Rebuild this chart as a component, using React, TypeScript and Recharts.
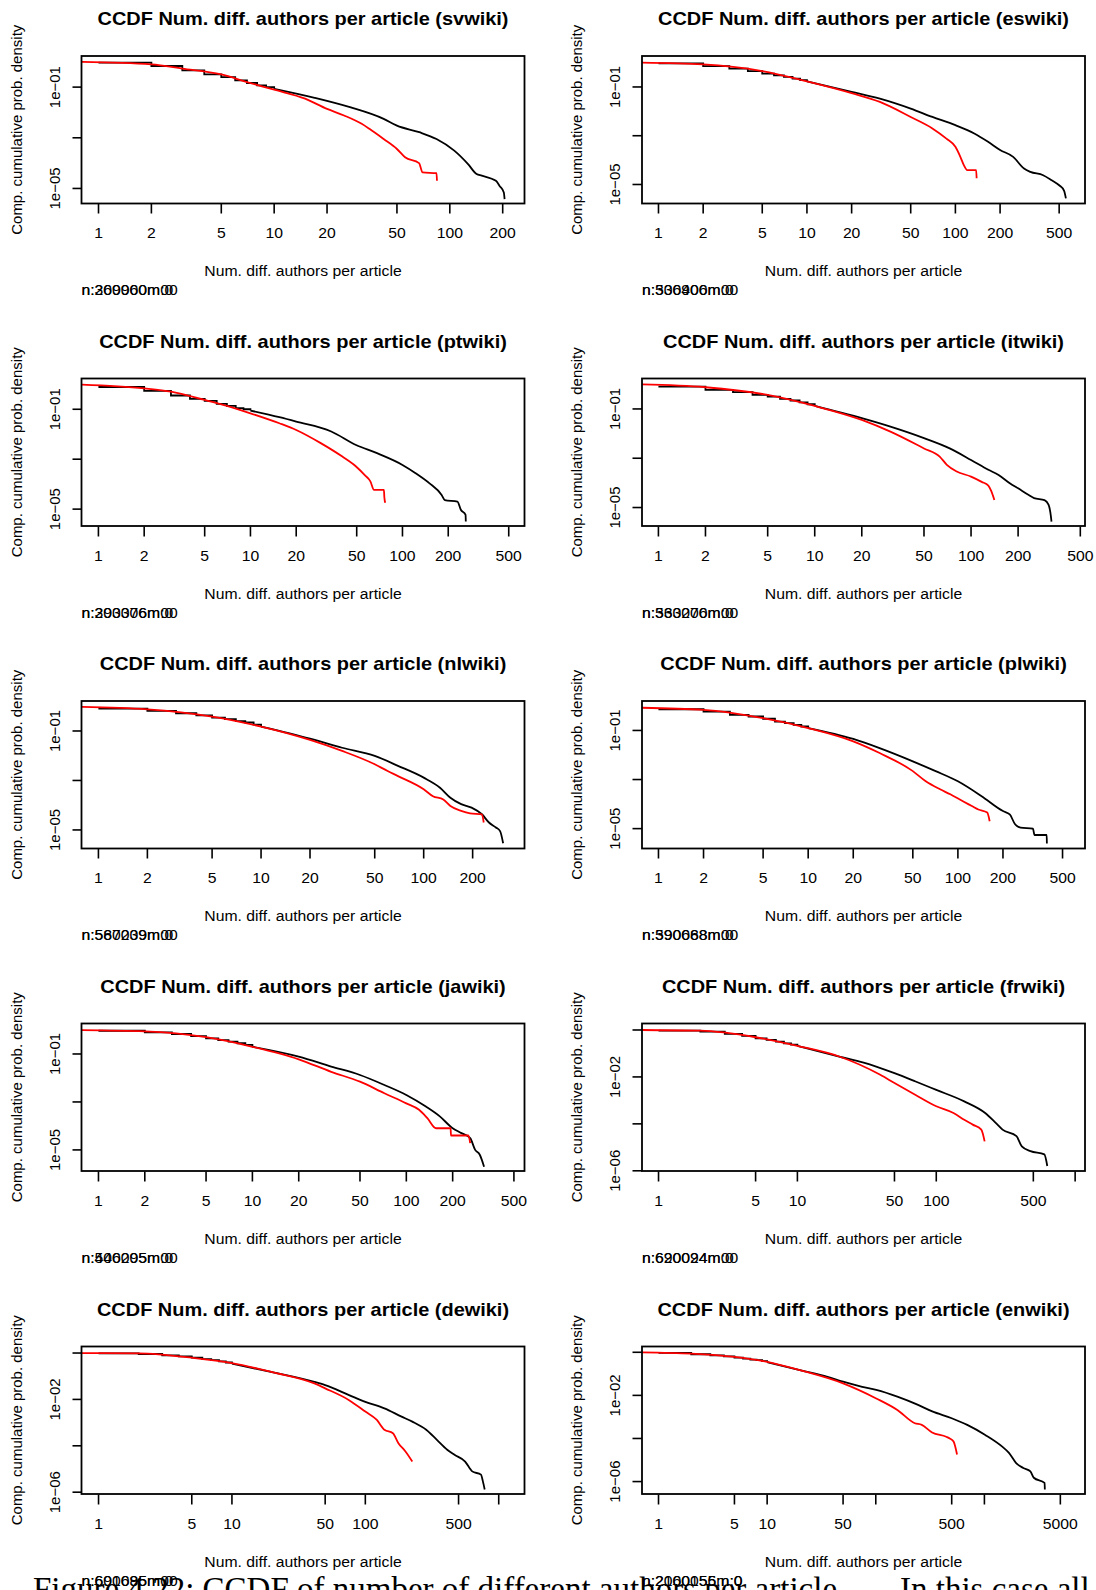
import { LineChart, Line, XAxis, YAxis } from "recharts";

// values, [x, y] pairs
const svBlackSteps = [[1, 0.92], [2, 0.68], [3, 0.457], [4, 0.318], [5, 0.249], [6, 0.184], [7, 0.145], [8, 0.117], [9, 0.1], [10, 0.086]];
const svBlackTail = [[10, 0.086], [17, 0.038], [27, 0.0162], [42, 0.0056], [50, 0.003], [67, 0.00166], [84, 0.00089], [106, 0.00031], [127, 9.1e-5], [142, 3.7e-5], [152, 3.2e-5], [183, 2e-5], [192, 1.26e-5], [203, 6.9e-6], [205, 3.8e-6]];
const svRed = [[0.7, 1.0], [2, 0.79], [3, 0.54], [5, 0.316], [7, 0.158], [10, 0.079], [15, 0.035], [20, 0.0138], [25, 0.0076], [31.5, 0.00355], [35, 0.0022], [42, 0.00089], [50, 0.00036], [55.6, 0.00017], [66.8, 1e-4], [70, 4.3e-5], [84, 4e-5], [84.5, 2e-5]];

const esBlackSteps = [[1, 0.93], [2, 0.72], [3, 0.56], [4, 0.45], [5, 0.355], [6, 0.3], [7, 0.257], [8, 0.22], [9, 0.19], [10, 0.17]];
const esBlackTail = [[10, 0.17], [20, 0.063], [31, 0.033], [50, 0.0129], [70, 0.0059], [100, 0.0027], [134, 0.00123], [166, 0.00056], [200, 0.00026], [245, 1.36e-4], [290, 4.5e-5], [320, 3.3e-5], [390, 2.4e-5], [445, 1.5e-5], [500, 9.3e-6], [540, 5.5e-6], [555, 2.7e-6]];
const esRed = [[0.7, 1.0], [2, 0.85], [5, 0.45], [10, 0.17], [20, 0.056], [31, 0.0244], [50, 0.0059], [70, 0.002], [87, 7.6e-4], [100, 3.5e-4], [108, 1.36e-4], [114, 6.2e-5], [120, 3.9e-5], [138, 3.9e-5], [139, 1.8e-5]];

const ptBlackSteps = [[1, 0.78], [2, 0.54], [3, 0.355], [4, 0.26], [5, 0.215], [6, 0.163], [7, 0.136], [8, 0.112], [9, 0.1], [10, 0.089]];
const ptBlackTail = [[10, 0.089], [15.5, 0.048], [20, 0.032], [34, 0.0129], [49.5, 0.0037], [68, 0.00174], [100, 5.9e-4], [122, 2.75e-4], [150, 1.1e-4], [181, 3.7e-5], [190, 2.3e-5], [230, 2e-5], [242, 9.4e-6], [260, 5.9e-6], [261, 3.2e-6]];
const ptRed = [[0.7, 1.0], [2, 0.69], [3, 0.51], [5, 0.236], [7, 0.136], [10, 0.069], [15.5, 0.0275], [20, 0.0148], [29, 0.0044], [40, 0.0013], [49.5, 5.1e-4], [56.5, 2.3e-4], [61.5, 1.3e-4], [65, 5.9e-5], [75.5, 5.9e-5], [76, 3e-5], [77, 1.8e-5]];

const itBlackSteps = [[1, 0.8], [2, 0.59], [3, 0.48], [4, 0.37], [5, 0.316], [6, 0.254], [7, 0.22], [8, 0.186], [9, 0.155], [10, 0.132]];
const itBlackTail = [[10, 0.132], [20, 0.042], [30.5, 0.019], [50, 0.0065], [73, 0.0025], [100, 8.5e-4], [129, 3.4e-4], [150, 2.1e-4], [177, 9.7e-5], [200, 6e-5], [234, 3.2e-5], [253, 2.4e-5], [295, 2e-5], [313, 1.3e-5], [322, 6e-6], [327, 2.7e-6]];
const itRed = [[0.7, 1.0], [2, 0.76], [5, 0.37], [10, 0.132], [20, 0.036], [30.5, 0.012], [50, 0.0025], [63, 0.00117], [70, 5.4e-4], [81, 2.9e-4], [100, 1.8e-4], [117, 1.1e-4], [129, 7.8e-5], [135, 4.5e-5], [141, 2e-5]];

const nlBlackSteps = [[1, 0.8], [2, 0.65], [3, 0.52], [4, 0.43], [5, 0.345], [6, 0.3], [7, 0.25], [8, 0.22], [9, 0.18], [10, 0.15]];
const nlBlackTail = [[10, 0.15], [20, 0.049], [31.5, 0.021], [50, 0.0098], [69.5, 0.0039], [100, 0.0013], [126, 5.1e-4], [146, 2e-4], [170, 1.1e-4], [197, 8e-5], [228, 4.3e-5], [252, 2e-5], [278, 1.26e-5], [295, 9e-6], [308, 2.9e-6]];
const nlRed = [[0.7, 0.95], [2, 0.75], [5, 0.38], [10, 0.15], [20, 0.0435], [31.5, 0.0156], [50, 0.0045], [60, 0.0024], [69.5, 0.0015], [100, 4.4e-4], [114, 2.3e-4], [132, 1.7e-4], [146, 9.3e-5], [170, 5.9e-5], [193, 4.7e-5], [228, 4.3e-5], [234, 2e-5]];

const plBlackSteps = [[1, 0.73], [2, 0.59], [3, 0.43], [4, 0.37], [5, 0.3], [6, 0.23], [7, 0.2], [8, 0.17], [9, 0.145], [10, 0.125]];
const plBlackTail = [[10, 0.125], [20, 0.045], [30, 0.019], [50, 0.0055], [71, 0.0022], [100, 8.5e-4], [144, 2.1e-4], [200, 5.2e-5], [222, 3.8e-5], [241, 1.5e-5], [262, 1.1e-5], [317, 1e-5], [325, 5.5e-6], [392, 5.5e-6], [393, 2.5e-6]];
const plRed = [[0.7, 0.85], [2, 0.69], [5, 0.316], [10, 0.125], [20, 0.036], [30, 0.012], [50, 0.0022], [61, 8.5e-4], [76, 4e-4], [89, 2.5e-4], [108, 1.3e-4], [124, 8.3e-5], [137, 6e-5], [157, 4.5e-5], [163, 2e-5]];

const jaBlackSteps = [[1, 0.93], [2, 0.8], [3, 0.68], [4, 0.56], [5, 0.45], [6, 0.38], [7, 0.33], [8, 0.28], [9, 0.24], [10, 0.2]];
const jaBlackTail = [[10, 0.2], [20, 0.078], [32.5, 0.03], [50, 0.0133], [72, 0.0051], [100, 0.00195], [134, 6.4e-4], [165, 2.5e-4], [200, 8e-5], [228, 5e-5], [260, 3.1e-5], [280, 1e-5], [300, 6.3e-6], [320, 2e-6]];
const jaRed = [[0.7, 1.0], [2, 0.88], [5, 0.5], [10, 0.2], [20, 0.06], [32.5, 0.018], [50, 0.007], [72, 0.0023], [100, 8.7e-4], [121, 4.7e-4], [137, 2.1e-4], [156, 8e-5], [194, 8e-5], [195, 4e-5], [253, 4e-5], [260, 1.9e-5]];

const frBlackSteps = [[1, 0.93], [2, 0.85], [3, 0.68], [4, 0.56], [5, 0.44], [6, 0.38], [7, 0.32], [8, 0.27], [9, 0.24], [10, 0.21]];
const frBlackTail = [[10, 0.21], [20, 0.074], [30, 0.041], [50, 0.0145], [71, 0.0064], [100, 0.0028], [159, 9.1e-4], [225, 2.9e-4], [268, 1.1e-4], [300, 5.7e-5], [378, 3e-5], [413, 1.1e-5], [477, 6.9e-6], [600, 5e-6], [630, 1.6e-6]];
const frRed = [[0.7, 1.0], [2, 0.93], [5, 0.49], [10, 0.21], [20, 0.074], [39.5, 0.0123], [50, 0.0055], [71, 0.0017], [100, 5.6e-4], [133, 2.9e-4], [159, 1.5e-4], [183, 9.3e-5], [211, 5.7e-5], [223, 1.8e-5]];

const deBlackSteps = [[1, 0.97], [2, 0.91], [3, 0.8], [4, 0.72], [5, 0.63], [6, 0.55], [7, 0.49], [8, 0.44], [9, 0.39], [10, 0.35]];
const deBlackTail = [[10, 0.35], [20, 0.15], [41.5, 0.057], [50, 0.041], [75.5, 0.0154], [100, 0.0079], [139, 0.0041], [187, 0.0018], [225, 0.0011], [286, 4.9e-4], [344, 1.8e-4], [411, 6.8e-5], [466, 4.1e-5], [560, 2.1e-5], [633, 7.9e-6], [736, 5.7e-6], [760, 3e-6], [785, 1.3e-6]];
const deRed = [[0.7, 1.0], [2, 0.97], [5, 0.63], [10, 0.37], [20, 0.15], [41.5, 0.049], [50, 0.03], [75.5, 0.0093], [100, 0.003], [122, 0.0013], [139, 4.9e-4], [161, 3.5e-4], [177, 1.3e-4], [200, 5.7e-5], [225, 2.1e-5]];

const enBlackSteps = [[1, 0.93], [2, 0.81], [3, 0.72], [4, 0.65], [5, 0.57], [6, 0.51], [7, 0.46], [8, 0.43], [9, 0.39], [10, 0.35]];
const enBlackTail = [[10, 0.35], [20, 0.148], [36, 0.073], [50, 0.043], [75, 0.025], [101, 0.0178], [158, 0.0087], [245, 0.0036], [331, 0.0018], [500, 8.7e-4], [695, 4.3e-4], [1010, 1.5e-4], [1450, 4.3e-5], [1690, 2.1e-5], [1960, 7.2e-6], [2280, 4.3e-6], [2650, 3e-6], [2850, 1.5e-6], [3580, 8.7e-7], [3600, 4.3e-7]];
const enRed = [[0.7, 1.0], [2, 0.87], [5, 0.61], [10, 0.36], [20, 0.148], [50, 0.036], [101, 0.0072], [158, 0.0021], [229, 5.1e-4], [265, 4.3e-4], [330, 1.9e-4], [445, 1.2e-4], [480, 1e-4], [520, 7.2e-5], [560, 1.8e-5]];

// tick values
const TICKS_A = [1, 2, 5, 10, 20, 50, 100, 200];
const TICKS_B = [1, 2, 5, 10, 20, 50, 100, 200, 500];
const TICKS_C = [1, 5, 10, 50, 100, 500, 1000];
const TICKS_D = [1, 5, 10, 50, 100, 500, 1000, 5000];
const Y_TICKS_5 = [1e-5, 1e-3, 1e-1];
const Y_LABELS_5 = ["1e\u221205", "", "1e\u221201"];
const Y_TICKS_6 = [1e-6, 1e-4, 1e-2, 1];
const Y_LABELS_6 = ["1e\u221206", "", "1e\u221202", ""];

const SANS = "'Liberation Sans', Arial, Helvetica, sans-serif";
const SERIF = "'Liberation Serif', 'Times New Roman', serif";
const STRETCH = 1.05; // the reference is a little wider than tall
const BOX_W = 443;
const BOX_H = 147.5;
const Y_W = 80;
const LW = 1.8;
const ROW_TOP = [56, 378.5, 701, 1023.5, 1346.5];
const COL_LEFT = [81.5, 642];

const pts = (a: number[][]) => a.map(([x, y]) => ({ x, y }));

interface Panel {
  wiki: string;
  xExp: [number, number];
  yExp: [number, number];
  xTicks: number[];
  xHidden: number[];
  yTicks: number[];
  yLabels: string[];
  steps: number[][];
  tail: number[][];
  red: number[][];
  nText: [string, string];
}

const PANELS: Panel[] = [
  { wiki: "svwiki", xExp: [-0.094, 2.428], yExp: [-5.594, 0.228], xTicks: TICKS_A, xHidden: [], yTicks: Y_TICKS_5, yLabels: Y_LABELS_5, steps: svBlackSteps, tail: svBlackTail, red: svRed, nText: ["n:269960m00", "n:300000m:0"] },
  { wiki: "eswiki", xExp: [-0.111, 2.873], yExp: [-5.78, 0.27], xTicks: TICKS_B, xHidden: [], yTicks: Y_TICKS_5, yLabels: Y_LABELS_5, steps: esBlackSteps, tail: esBlackTail, red: esRed, nText: ["n:506906m00", "n:330400m:0"] },
  { wiki: "ptwiki", xExp: [-0.108, 2.806], yExp: [-5.696, 0.212], xTicks: TICKS_B, xHidden: [], yTicks: Y_TICKS_5, yLabels: Y_LABELS_5, steps: ptBlackSteps, tail: ptBlackTail, red: ptRed, nText: ["n:290376m00", "n:303006m:0"] },
  { wiki: "itwiki", xExp: [-0.105, 2.729], yExp: [-5.77, 0.215], xTicks: TICKS_B, xHidden: [], yTicks: Y_TICKS_5, yLabels: Y_LABELS_5, steps: itBlackSteps, tail: itBlackTail, red: itRed, nText: ["n:560276m00", "n:333000m:0"] },
  { wiki: "nlwiki", xExp: [-0.101, 2.623], yExp: [-5.75, 0.212], xTicks: TICKS_A, xHidden: [], yTicks: Y_TICKS_5, yLabels: Y_LABELS_5, steps: nlBlackSteps, tail: nlBlackTail, red: nlRed, nText: ["n:567209m00", "n:580039m:0"] },
  { wiki: "plwiki", xExp: [-0.11, 2.849], yExp: [-5.81, 0.2], xTicks: TICKS_B, xHidden: [], yTicks: Y_TICKS_5, yLabels: Y_LABELS_5, steps: plBlackSteps, tail: plBlackTail, red: plRed, nText: ["n:590668m00", "n:390088m:0"] },
  { wiki: "jawiki", xExp: [-0.107, 2.771], yExp: [-5.9, 0.25], xTicks: TICKS_B, xHidden: [], yTicks: Y_TICKS_5, yLabels: Y_LABELS_5, steps: jaBlackSteps, tail: jaBlackTail, red: jaRed, nText: ["n:546205m00", "n:400095m:0"] },
  { wiki: "frwiki", xExp: [-0.119, 3.071], yExp: [-6.03, 0.255], xTicks: TICKS_C, xHidden: [1000], yTicks: Y_TICKS_6, yLabels: Y_LABELS_6, steps: frBlackSteps, tail: frBlackTail, red: frRed, nText: ["n:620024m00", "n:690094m:0"] },
  { wiki: "dewiki", xExp: [-0.124, 3.197], yExp: [-6.1, 0.26], xTicks: TICKS_C, xHidden: [1000], yTicks: Y_TICKS_6, yLabels: Y_LABELS_6, steps: deBlackSteps, tail: deBlackTail, red: deRed, nText: ["n:690695m00", "n:601085m:0"] },
  { wiki: "enwiki", xExp: [-0.152, 3.926], yExp: [-6.6, 0.245], xTicks: TICKS_D, xHidden: [100, 1000], yTicks: Y_TICKS_6, yLabels: Y_LABELS_6, steps: enBlackSteps, tail: enBlackTail, red: enRed, nText: ["n:2060055;n:0", "n:2100156m:0"] },
];

// horizontally stretched text, like the reference
function SText({ x, y, size, anchor = "start", weight = "normal", children }: {
  x: number; y: number; size: number; anchor?: "start" | "middle" | "end"; weight?: string; children: React.ReactNode;
}) {
  return (
    <text transform={`translate(${x} ${y}) scale(${STRETCH} 1)`} textAnchor={anchor} fontSize={size} fontWeight={weight} fontFamily={SANS} fill="#000">
      {children}
    </text>
  );
}

function PanelChart({ p, left, top }: { p: Panel; left: number; top: number }) {
  const xDomain = [10 ** p.xExp[0], 10 ** p.xExp[1]];
  const yDomain = [10 ** p.yExp[0], 10 ** p.yExp[1]];

  // eslint-disable-next-line @typescript-eslint/no-explicit-any
  const xTick = (props: any) => {
    const v = props.payload.value;
    if (p.xHidden.includes(v)) return <g />;
    return <SText x={props.x} y={props.y + 22.5} size={15} anchor="middle">{v}</SText>;
  };
  // eslint-disable-next-line @typescript-eslint/no-explicit-any
  const yTick = (props: any) => {
    const label = p.yLabels[p.yTicks.indexOf(props.payload.value)] ?? "";
    if (!label) return <g />;
    const bx = props.x - 10;
    return (
      <text x={bx} y={props.y} transform={`rotate(-90, ${bx}, ${props.y})`} textAnchor="middle" fontSize={15} fontFamily={SANS} fill="#000">
        {label}
      </text>
    );
  };

  return (
    <div style={{ position: "absolute", left: left - Y_W, top: top - 56 }}>
      <LineChart width={Y_W + BOX_W + 15} height={56 + BOX_H + 30 + 20} margin={{ top: 56, right: 15, bottom: 20, left: 0 }}>
        <XAxis
          dataKey="x"
          type="number"
          scale="log"
          domain={xDomain}
          allowDataOverflow
          ticks={p.xTicks}
          interval={0}
          height={30}
          axisLine={false}
          tickSize={10}
          tickLine={{ stroke: "#000", strokeWidth: 1.6 }}
          tick={xTick}
        />
        <YAxis
          dataKey="y"
          type="number"
          scale="log"
          domain={yDomain}
          allowDataOverflow
          ticks={p.yTicks}
          interval={0}
          width={Y_W}
          axisLine={false}
          tickSize={9.5}
          tickLine={{ stroke: "#000", strokeWidth: 1.6 }}
          tick={yTick}
        />
        <Line data={pts(p.steps)} dataKey="y" type="stepAfter" stroke="#000" strokeWidth={LW} dot={false} isAnimationActive={false} />
        <Line data={pts(p.tail)} dataKey="y" type="monotoneX" stroke="#000" strokeWidth={LW} dot={false} isAnimationActive={false} />
        <Line data={pts(p.red)} dataKey="y" type="monotoneX" stroke="#ff0000" strokeWidth={LW} dot={false} isAnimationActive={false} />
      </LineChart>
    </div>
  );
}

export default function App() {
  return (
    <div style={{ position: "absolute", left: 0, top: 0, width: 1096, height: 1590, overflow: "hidden", background: "#fff" }}>
      {PANELS.map((p, i) => (
        <PanelChart key={p.wiki} p={p} left={COL_LEFT[i % 2]} top={ROW_TOP[Math.floor(i / 2)]} />
      ))}
      <svg width={1096} height={1590} style={{ position: "absolute", left: 0, top: 0, pointerEvents: "none" }}>
        {PANELS.map((p, i) => {
          const bl = COL_LEFT[i % 2];
          const bt = ROW_TOP[Math.floor(i / 2)];
          const cx = bl + BOX_W / 2;
          const ylx = bl - 60;
          const yly = bt + BOX_H / 2;
          return (
            <g key={p.wiki}>
              <rect x={bl} y={bt} width={BOX_W} height={BOX_H} fill="none" stroke="#000" strokeWidth={1.8} />
              <SText x={cx} y={bt - 31} size={19} weight="bold" anchor="middle">
                {`CCDF Num. diff. authors per article (${p.wiki})`}
              </SText>
              <text x={ylx} y={yly} transform={`rotate(-90, ${ylx}, ${yly})`} textAnchor="middle" fontSize={15} fontFamily={SANS} fill="#000">
                Comp. cumulative prob. density
              </text>
              <SText x={cx} y={bt + 220} size={15} anchor="middle">Num. diff. authors per article</SText>
              <SText x={bl} y={bt + 239} size={15}>{p.nText[0]}</SText>
              <SText x={bl} y={bt + 239} size={15}>{p.nText[1]}</SText>
            </g>
          );
        })}
        <text x={33} y={1600} fontSize={33} fontFamily={SERIF} fill="#000">
          Figure 4.22: CCDF of number of different authors per article.
        </text>
        <text x={900} y={1600} fontSize={33} fontFamily={SERIF} fill="#000">
          In this case all blue
        </text>
      </svg>
    </div>
  );
}
